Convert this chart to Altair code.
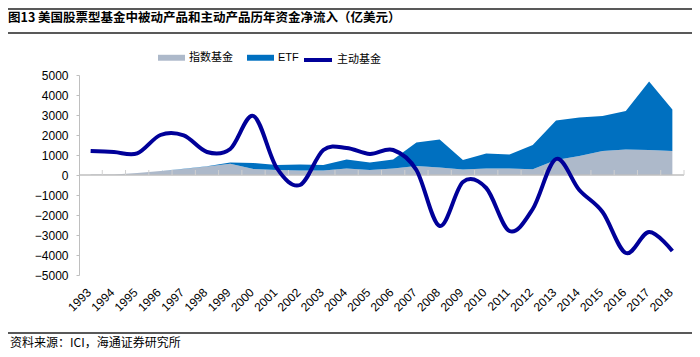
import altair as alt
import pandas as pd

# ---- data ----
years = list(range(1993, 2019))
index_fund = [20, 30, 100, 200, 300, 420, 560, 300, 250, 220,
              220, 330, 250, 330, 450, 370, 280, 330, 330, 290,
              750, 950, 1200, 1280, 1250, 1200]
etf = [0, 0, 0, 0, 10, 20, 60, 300, 250, 310,
       280, 450, 370, 450, 1170, 1410, 470, 750, 700, 1210,
       1970, 1920, 1750, 1920, 3420, 2080]
active = [1200, 1150, 1080, 2000, 1980, 1150, 1300, 2950, 350, -500,
          1250, 1350, 1050, 1250, 250, -2550, -350, -650, -2800, -1700,
          800, -750, -1850, -3900, -2850, -3800]
series_names = ["指数基金", "ETF", "主动基金"]
series_colors = ["#ADB9CA", "#0070C0", "#000099"]
y_ticks = list(range(-5000, 5001, 1000))
title_text = "图13 美国股票型基金中被动产品和主动产品历年资金净流入（亿美元）"
source_text = "资料来源：ICI，海通证券研究所"

W, H = 605, 200
PAD_L, PAD_T, PAD_R, PAD_B = 71, 67, 8, 76
CN = "Liberation Sans, Noto Sans CJK SC"

df = pd.DataFrame({"year": years, "idx": index_fund, "etf": etf, "active": active})
bounds = pd.DataFrame({"b": [y + 0.5 for y in years]})

x_scale = alt.Scale(domain=[years[0] - 0.5, years[-1] + 0.5], nice=False, zero=False)
y_scale = alt.Scale(domain=[-5000, 5000], nice=False)

x_axis = alt.Axis(values=years, format="d", labelAngle=-45, labelAlign="right",
                  labelBaseline="middle", labelPadding=15, labelOffset=-2,
                  labelFont="Liberation Sans",
                  labelFontSize=12, labelColor="#000000", domain=False, ticks=False,
                  grid=False, title=None, labelOverlap=False, labelFlush=False,
                  labelBound=False)
y_axis = alt.Axis(values=y_ticks, format="d", labelFont="Liberation Sans",
                  labelFontSize=12, labelColor="#000000", domainColor="#BFBFBF",
                  tickColor="#BFBFBF", tickSize=3, labelPadding=8, grid=False,
                  title=None, labelOverlap=False, labelFlush=False)

areas = alt.Chart(df).transform_fold(
    ["idx", "etf"], as_=["key", "value"]
).transform_calculate(
    series="datum.key === 'idx' ? '指数基金' : 'ETF'",
    ord="datum.key === 'idx' ? 0 : 1",
).mark_area(opacity=1).encode(
    x=alt.X("year:Q", scale=x_scale, axis=x_axis),
    y=alt.Y("value:Q", stack="zero", scale=y_scale, axis=y_axis),
    fill=alt.Fill("series:N",
                  scale=alt.Scale(domain=series_names[:2], range=series_colors[:2]),
                  legend=alt.Legend(orient="none", legendX=79, legendY=-31,
                                    direction="horizontal", title=None,
                                    symbolType="M-1,-0.22H1V0.22H-1Z", symbolSize=729,
                                    symbolStrokeWidth=0, labelFont=CN, labelFontSize=11,
                                    labelColor="#000000", columnPadding=14,
                                    labelOffset=4, padding=0)),
    order=alt.Order("ord:Q"),
)

zero_rule = alt.Chart(pd.DataFrame({"z": [0]})).mark_rule(
    color="#BFBFBF", strokeWidth=1.5
).encode(x=alt.value(0), x2=alt.value(W), y=alt.Y("z:Q", scale=y_scale, axis=y_axis))

tick_rules = alt.Chart(bounds).transform_calculate(
    y0="0", y1="250"
).mark_rule(color="#D0D0D0", strokeWidth=1).encode(
    x=alt.X("b:Q", scale=x_scale, axis=x_axis),
    y=alt.Y("y0:Q", scale=y_scale, axis=y_axis),
    y2="y1:Q",
)

line = alt.Chart(df).transform_calculate(name="'主动基金'").mark_line(
    interpolate="cardinal", strokeWidth=4
).encode(
    x=alt.X("year:Q", scale=x_scale, axis=x_axis),
    y=alt.Y("active:Q", scale=y_scale, axis=y_axis),
    stroke=alt.Stroke("name:N",
                      scale=alt.Scale(domain=series_names[2:], range=series_colors[2:]),
                      legend=alt.Legend(orient="none", legendX=223, legendY=-31,
                                        direction="horizontal", title=None,
                                        symbolType="stroke", symbolSize=784,
                                        symbolStrokeWidth=4, labelFont=CN,
                                        labelFontSize=11, labelColor="#000000",
                                        labelOffset=3, padding=0)),
)

txt = pd.DataFrame({"t": [title_text], "s": [source_text]})
title_mark = alt.Chart(txt).mark_text(
    align="left", baseline="middle", fontSize=12.5, fontWeight="bold",
    font="Noto Sans CJK SC", color="#000000"
).encode(x=alt.value(-71), y=alt.value(-57), text="t:N")

source_mark = alt.Chart(txt).mark_text(
    align="left", baseline="middle", fontSize=12,
    font="Noto Sans CJK SC", color="#000000"
).encode(x=alt.value(-69), y=alt.value(268), text="s:N")

def hline(ypix):
    return alt.Chart(pd.DataFrame({"z": [0]})).mark_rule(
        color="#595959", strokeWidth=2
    ).encode(x=alt.value(-PAD_L), x2=alt.value(W + PAD_R), y=alt.value(ypix))

chart = alt.layer(
    areas, zero_rule, tick_rules, line, title_mark, source_mark,
    hline(-66), hline(-42), hline(258)
).properties(
    width=W, height=H,
    padding={"left": PAD_L, "top": PAD_T, "right": PAD_R, "bottom": PAD_B},
    autosize=alt.AutoSizeParams(type="none"),
    background="white",
).configure_view(stroke=None)

chart.save("out.html", embed_options={"renderer": "svg", "actions": False})
